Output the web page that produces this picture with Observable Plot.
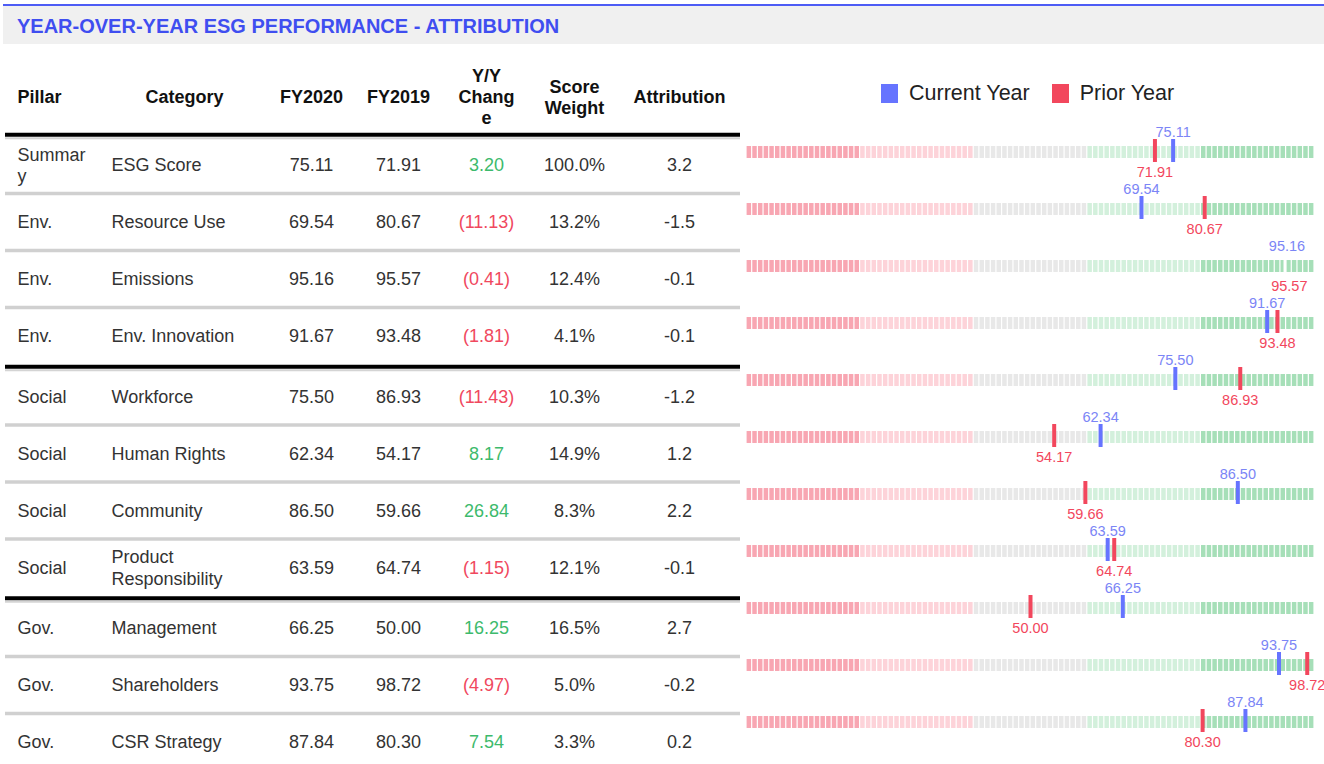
<!DOCTYPE html>
<html>
<head>
<meta charset="utf-8">
<script src="https://cdn.jsdelivr.net/npm/d3@7"></script>
<script src="https://cdn.jsdelivr.net/npm/@observablehq/plot@0.6"></script>
<style>
  body { margin: 0; background: #fff; font-family: "Liberation Sans", Arial, sans-serif; }
  #page { position: relative; width: 1324px; height: 764px; overflow: hidden; background: #fff; }
  #table, #bars { position: absolute; top: 0; }
  #table { left: 0; }
  #bars { left: 740px; }
  #titlebar { position: absolute; left: 3px; top: 4px; width: 1321px; height: 38px; background: #f0f0f0; border-top: 2px solid #4d5cf5; }
  #title { position: absolute; left: 17px; top: 16px; line-height: 20px; font-weight: bold; font-size: 20px; color: #3f4ef0; white-space: nowrap; }
  #legend { position: absolute; left: 881px; top: 83px; display: flex; align-items: center; font-size: 21.5px; line-height: 21.5px; color: #222; }
  #legend .sw { width: 17px; height: 19px; margin-right: 11px; }
  #legend .item { display: flex; align-items: center; margin-right: 22px; }
</style>
</head>
<body>
<div id="page">
  <div id="table"></div>
  <div id="bars"></div>
  <div id="titlebar"></div>
  <div id="title">YEAR-OVER-YEAR ESG PERFORMANCE - ATTRIBUTION</div>
  <div id="legend"></div>
</div>
<script>
// ---------------- data ----------------
const pillars = ["Summar\ny", "Env.", "Env.", "Env.", "Social", "Social", "Social", "Social", "Gov.", "Gov.", "Gov."];
const categories = ["ESG Score", "Resource Use", "Emissions", "Env. Innovation", "Workforce", "Human Rights", "Community", "Product\nResponsibility", "Management", "Shareholders", "CSR Strategy"];
const fy2020 = [75.11, 69.54, 95.16, 91.67, 75.50, 62.34, 86.50, 63.59, 66.25, 93.75, 87.84];
const fy2019 = [71.91, 80.67, 95.57, 93.48, 86.93, 54.17, 59.66, 64.74, 50.00, 98.72, 80.30];
const yoyChange = [3.20, -11.13, -0.41, -1.81, -11.43, 8.17, 26.84, -1.15, 16.25, -4.97, 7.54];
const scoreWeight = [100.0, 13.2, 12.4, 4.1, 10.3, 14.9, 8.3, 12.1, 16.5, 5.0, 3.3];
const attribution = [3.2, -1.5, -0.1, -0.1, -1.2, 1.2, 2.2, -0.1, 2.7, -0.2, 0.2];
const headers = ["Pillar", "Category", "FY2020", "FY2019", "Y/Y\nChang\ne", "Score\nWeight", "Attribution"];
const seriesNames = ["Current Year", "Prior Year"];
const zoneBreaks = [0, 20, 40, 60, 80, 100];
const hiddenMarkerRows = ["Emissions"];

// ---------------- styles / layout ----------------
const FONT = "Liberation Sans, Arial, Helvetica, sans-serif";
const BLUE = "#6674ff", BLUE_TEXT = "#7b85f6", RED = "#f2475d";
const GREEN_TXT = "#3dba6c", RED_TXT = "#f0485e";
const zoneColors = ["#f8a6b2", "#fdd3d9", "#e8e8e8", "#d3f0dc", "#a6dfb8"];
const blockOf = {"Summar\ny": 0, "Env.": 0, "Social": 1, "Gov.": 2};
const colX = [17, 111, 311, 398, 486, 574, 679];     // table column anchors (px)
const headerX = [17, 184, 311, 398, 486, 574, 679];
const headerP = -1.19, headerRuleP = -0.54, blockGap = 0.06;

// ---------------- table ----------------
const rowP = pillars.map((p, i) => i + blockGap * blockOf[p]);
const fmt2 = v => v.toFixed(2);
const fmtYoY = v => v < 0 ? `(${Math.abs(v).toFixed(2)})` : v.toFixed(2);

const leftTexts = [], midTexts = [];
pillars.forEach((p, i) => {
  leftTexts.push({x: colX[0], p: rowP[i], text: p});
  leftTexts.push({x: colX[1], p: rowP[i], text: categories[i]});
  midTexts.push({x: colX[2], p: rowP[i], text: fmt2(fy2020[i]), fill: "#333"});
  midTexts.push({x: colX[3], p: rowP[i], text: fmt2(fy2019[i]), fill: "#333"});
  midTexts.push({x: colX[4], p: rowP[i], text: fmtYoY(yoyChange[i]), fill: yoyChange[i] < 0 ? RED_TXT : GREEN_TXT});
  midTexts.push({x: colX[5], p: rowP[i], text: scoreWeight[i].toFixed(1) + "%", fill: "#333"});
  midTexts.push({x: colX[6], p: rowP[i], text: attribution[i].toFixed(1), fill: "#333"});
});
const headerTexts = headers.map((h, j) => ({x: headerX[j], text: h, anchor: j === 0 ? "start" : "middle"}));

const seps = [];
for (let i = 0; i < pillars.length - 1; i++) {
  seps.push({p: (rowP[i] + rowP[i + 1]) / 2, major: blockOf[pillars[i]] !== blockOf[pillars[i + 1]]});
}
const majorSeps = [{p: headerRuleP}, ...seps.filter(s => s.major)];
const minorSeps = seps.filter(s => !s.major);

const table = Plot.plot({
  width: 742, height: 764,
  marginLeft: 5, marginRight: 2, marginTop: 0, marginBottom: 0,
  style: {fontFamily: FONT, background: "transparent", overflow: "visible"},
  x: {type: "identity", axis: null},
  y: {domain: [0, rowP[rowP.length - 1]], range: [164, 741], axis: null},
  marks: [
    Plot.ruleY(minorSeps, {y: "p", dy: 0.5, stroke: "#d0d0d0", strokeWidth: 3.5}),
    Plot.ruleY(majorSeps, {y: "p", stroke: "#d4d4d4", strokeWidth: 2, dy: 4.5}),
    Plot.ruleY(majorSeps, {y: "p", dy: 1, stroke: "#000", strokeWidth: 4}),
    Plot.text(headerTexts.filter(d => d.anchor === "start"), {x: "x", y: () => headerP, text: "text", textAnchor: "start", fontWeight: "bold", fontSize: 18, fill: "#111", lineHeight: 1.17}),
    Plot.text(headerTexts.filter(d => d.anchor === "middle"), {x: "x", y: () => headerP, text: "text", textAnchor: "middle", fontWeight: "bold", fontSize: 18, fill: "#111", lineHeight: 1.17}),
    Plot.text(leftTexts, {x: "x", y: "p", text: "text", textAnchor: "start", fontSize: 18, fill: "#333", lineHeight: 1.2}),
    Plot.text(midTexts, {x: "x", y: "p", text: "text", textAnchor: "middle", fontSize: 18, fill: "fill", lineHeight: 1.2})
  ]
});
document.getElementById("table").appendChild(table);

// ---------------- bullet bars ----------------
const rows = categories.map((c, i) => ({cat: c, current: fy2020[i], prior: fy2019[i]}));
const cells = [];
categories.forEach(c => {
  for (let z = 0; z < zoneBreaks.length - 1; z++) {
    for (let v = zoneBreaks[z]; v < zoneBreaks[z + 1]; v++) {
      cells.push({cat: c, v, color: zoneColors[z]});
    }
  }
});
const shownRows = rows.filter(r => !hiddenMarkerRows.includes(r.cat));
const hiddenRows = rows.filter(r => hiddenMarkerRows.includes(r.cat));

const band = 57.05, center0 = 151.5;
const bars = Plot.plot({
  width: 584, height: 764,
  marginLeft: 6, marginRight: 10,
  marginTop: center0 - band / 2, marginBottom: 764 - (center0 - band / 2 + band * categories.length),
  style: {fontFamily: FONT, background: "transparent", overflow: "visible"},
  x: {domain: [0, 100], axis: null},
  y: {type: "band", domain: categories, padding: 0, axis: null},
  color: {type: "identity"},
  marks: [
    Plot.rect(cells, {x1: "v", x2: d => d.v + 1, y: "cat", fill: "color", insetLeft: 0.6, insetRight: 0.6, insetTop: band / 2 - 5.5, insetBottom: band / 2 - 6.5}),
    Plot.tickX(hiddenRows, {x: "current", y: "cat", dx: -2, stroke: "#fff", strokeWidth: 3, insetTop: band / 2 - 5.5, insetBottom: band / 2 - 6.5}),
    Plot.tickX(shownRows, {x: "prior", y: "cat", stroke: RED, strokeWidth: 4, insetTop: band / 2 - 12.5, insetBottom: band / 2 - 10.5}),
    Plot.tickX(shownRows, {x: "current", y: "cat", stroke: BLUE, strokeWidth: 4, insetTop: band / 2 - 12.5, insetBottom: band / 2 - 10.5}),
    Plot.text(rows, {x: "current", y: "cat", text: d => d.current.toFixed(2), dy: -20, fill: BLUE_TEXT, fontSize: 14.5}),
    Plot.text(rows, {x: "prior", y: "cat", text: d => d.prior.toFixed(2), dy: 20, fill: RED, fontSize: 14.5})
  ]
});
document.getElementById("bars").appendChild(bars);

// ---------------- legend ----------------
const legend = document.getElementById("legend");
[[seriesNames[0], BLUE], [seriesNames[1], RED]].forEach(([name, col]) => {
  const item = document.createElement("div");
  item.className = "item";
  const sw = document.createElement("div");
  sw.className = "sw";
  sw.style.background = col;
  const t = document.createElement("span");
  t.textContent = name;
  item.appendChild(sw);
  item.appendChild(t);
  legend.appendChild(item);
});
</script>
</body>
</html>
